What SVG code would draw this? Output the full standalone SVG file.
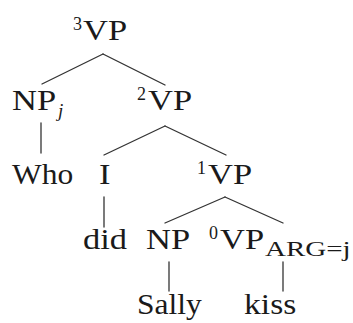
<svg xmlns="http://www.w3.org/2000/svg" width="353" height="323" viewBox="0 0 353 323">
<rect width="353" height="323" fill="#fff"/>
<g id="edges" stroke="#333" stroke-width="1.3" stroke-linecap="round">
<line x1="103" y1="54" x2="42" y2="84"/>
<line x1="103" y1="54" x2="165" y2="85"/>
<line x1="41" y1="123" x2="41" y2="153"/>
<line x1="165" y1="126" x2="104" y2="155"/>
<line x1="165" y1="126" x2="226" y2="155"/>
<line x1="104" y1="197" x2="104" y2="227"/>
<line x1="225" y1="197" x2="165" y2="223"/>
<line x1="225" y1="197" x2="283" y2="223"/>
<line x1="169" y1="262" x2="169" y2="291"/>
<line x1="283" y1="262" x2="283" y2="291"/>
</g>
<g id="vp3" fill="#1a1a1a">
<text font-family="Liberation Serif" font-size="18" x="73" y="30">3</text>
<text font-family="Liberation Serif" font-size="30" transform="translate(83,40) scale(1.15,1)" x="0" y="0">VP</text>
</g>
<g id="npj" fill="#1a1a1a">
<text font-family="Liberation Serif" font-size="30" transform="translate(12,110) scale(1.15,1)" x="0" y="0">NP</text>
<text font-family="Liberation Serif" font-size="19" font-style="italic" x="58" y="117">j</text>
</g>
<g id="vp2" fill="#1a1a1a">
<text font-family="Liberation Serif" font-size="18" x="137" y="100">2</text>
<text font-family="Liberation Serif" font-size="30" transform="translate(148,110) scale(1.15,1)" x="0" y="0">VP</text>
</g>
<g id="who" fill="#1a1a1a">
<text font-family="Liberation Serif" font-size="30" transform="translate(12,184) scale(1.05,1)" x="0" y="0">Who</text>
</g>
<g id="i" fill="#1a1a1a">
<text font-family="Liberation Serif" font-size="30" transform="translate(99,184) scale(1.15,1)" x="0" y="0">I</text>
</g>
<g id="vp1" fill="#1a1a1a">
<text font-family="Liberation Serif" font-size="18" x="197" y="174">1</text>
<text font-family="Liberation Serif" font-size="30" transform="translate(208,184) scale(1.15,1)" x="0" y="0">VP</text>
</g>
<g id="did" fill="#1a1a1a">
<text font-family="Liberation Serif" font-size="30" transform="translate(83,249) scale(1.15,1)" x="0" y="0">did</text>
</g>
<g id="np" fill="#1a1a1a">
<text font-family="Liberation Serif" font-size="30" transform="translate(146,249) scale(1.15,1)" x="0" y="0">NP</text>
</g>
<g id="vp0" fill="#1a1a1a">
<text font-family="Liberation Serif" font-size="18" x="209" y="239">0</text>
<text font-family="Liberation Serif" font-size="30" transform="translate(220,249) scale(1.15,1)" x="0" y="0">VP</text>
<text font-family="Liberation Serif" font-size="21" transform="translate(265,256) scale(1.38,1)" x="0" y="0">ARG=j</text>
</g>
<g id="sally" fill="#1a1a1a">
<text font-family="Liberation Serif" font-size="30" transform="translate(137,314) scale(1.05,1)" x="0" y="0">Sally</text>
</g>
<g id="kiss" fill="#1a1a1a">
<text font-family="Liberation Serif" font-size="30" transform="translate(244,314) scale(1.12,1)" x="0" y="0">kiss</text>
</g>
</svg>
